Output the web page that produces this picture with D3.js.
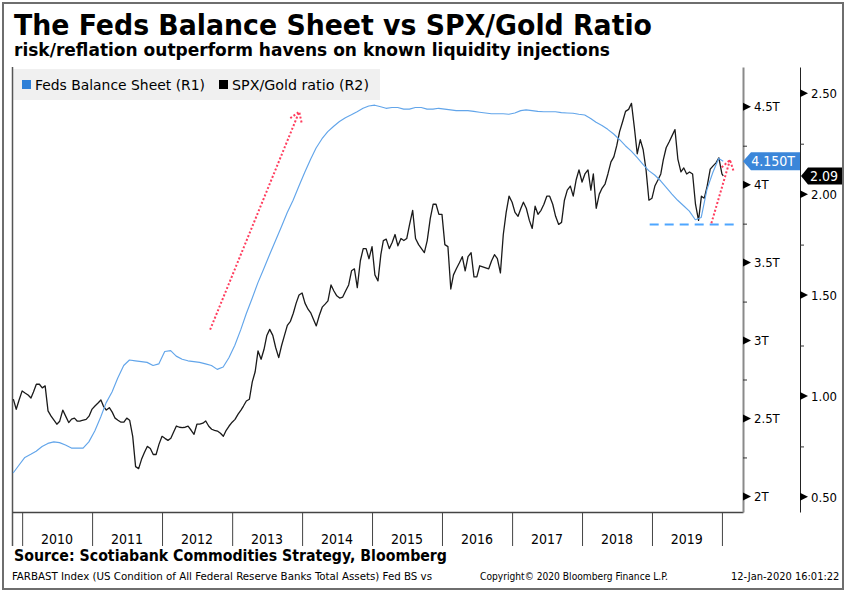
<!DOCTYPE html>
<html>
<head>
<meta charset="utf-8">
<script src="https://cdn.jsdelivr.net/npm/d3@7"></script>
<style>
  body { margin: 0; background: #fff; }
  text { font-family: "DejaVu Sans Condensed", "DejaVu Sans", sans-serif; fill: #000; }
</style>
</head>
<body>
<svg id="chart" width="847" height="592"></svg>
<script>
// ---- data ----
var years = [2010, 2011, 2012, 2013, 2014, 2015, 2016, 2017, 2018, 2019];

var r1Ticks = [2, 2.5, 3, 3.5, 4, 4.5];
var r1Labels = ["2T", "2.5T", "3T", "3.5T", "4T", "4.5T"];
var r1Minor = [2.25, 2.75, 3.25, 3.75, 4.25];

var r2Ticks = [0.5, 1, 1.5, 2, 2.5];
var r2Labels = ["0.50", "1.00", "1.50", "2.00", "2.50"];
var r2Minor = [0.75, 1.25, 1.75, 2.25];

// Feds balance sheet, trillions, mid-month Nov 2009 - Dec 2019, last point 8 Jan 2020
var fedValues = [
  2.15, 2.20,
  2.25, 2.27, 2.29, 2.32, 2.34, 2.35, 2.345, 2.33, 2.31, 2.31, 2.31, 2.35,
  2.42, 2.51, 2.60, 2.67, 2.76, 2.84, 2.875, 2.87, 2.865, 2.86, 2.84, 2.85,
  2.93, 2.935, 2.90, 2.88, 2.87, 2.865, 2.86, 2.85, 2.84, 2.815, 2.83, 2.89,
  2.97, 3.07, 3.17, 3.27, 3.37, 3.46, 3.55, 3.64, 3.73, 3.82, 3.90, 3.99,
  4.08, 4.165, 4.235, 4.295, 4.34, 4.375, 4.405, 4.43, 4.448, 4.468, 4.49, 4.505,
  4.51, 4.50, 4.49, 4.495, 4.495, 4.485, 4.485, 4.495, 4.495, 4.485, 4.485, 4.49,
  4.485, 4.48, 4.475, 4.475, 4.475, 4.47, 4.465, 4.46, 4.455, 4.455, 4.455, 4.452,
  4.46, 4.475, 4.48, 4.475, 4.47, 4.468, 4.468, 4.468, 4.462, 4.46, 4.458, 4.452,
  4.447, 4.425, 4.40, 4.38, 4.355, 4.325, 4.29, 4.25, 4.215, 4.175, 4.13, 4.09,
  4.062, 4.025, 3.985, 3.94, 3.90, 3.865, 3.83, 3.775, 3.79, 3.97, 4.08, 4.168,
  4.150
];

// SPX/Gold ratio, 1st and 16th of each month, 16 Nov 2009 - 1 Jan 2020, last point 8 Jan 2020
var ratioValues = [
  0.984, 0.934, 0.98,
  1.025, 1.015, 1.005, 0.99, 1.02, 1.058, 1.058, 1.04, 1.05, 0.926, 0.90, 0.88,
  0.86, 0.875, 0.93, 0.90, 0.868, 0.885, 0.89, 0.875, 0.876, 0.88, 0.884, 0.90,
  0.935, 0.95, 0.965, 0.98, 0.95, 0.93, 0.942, 0.92, 0.89, 0.88, 0.87, 0.87,
  0.89, 0.88, 0.80, 0.65, 0.64, 0.686, 0.72, 0.75, 0.74, 0.71, 0.71, 0.76,
  0.80, 0.79, 0.78, 0.79, 0.82, 0.851, 0.845, 0.843, 0.845, 0.85, 0.83, 0.81,
  0.86, 0.86, 0.865, 0.876, 0.85, 0.835, 0.83, 0.826, 0.815, 0.80, 0.83, 0.851,
  0.87, 0.884, 0.91, 0.93, 0.95, 0.975, 0.984, 1.07, 1.12, 1.223, 1.182, 1.23,
  1.30, 1.33, 1.30, 1.24, 1.19, 1.25, 1.30, 1.35, 1.37, 1.41, 1.46, 1.50,
  1.51, 1.46, 1.43, 1.41, 1.38, 1.347, 1.40, 1.44, 1.455, 1.471, 1.55, 1.52,
  1.496, 1.485, 1.49, 1.52, 1.55, 1.62, 1.63, 1.537, 1.67, 1.73, 1.73, 1.68,
  1.74, 1.60, 1.57, 1.70, 1.77, 1.777, 1.73, 1.76, 1.80, 1.744, 1.78, 1.77,
  1.78, 1.85, 1.92, 1.78, 1.75, 1.73, 1.71, 1.77, 1.88, 1.95, 1.95, 1.90,
  1.90, 1.75, 1.74, 1.53, 1.60, 1.63, 1.66, 1.69, 1.62, 1.69, 1.71, 1.59,
  1.59, 1.645, 1.64, 1.635, 1.63, 1.67, 1.70, 1.68, 1.61, 1.80, 1.91, 1.99,
  1.96, 1.91, 1.89, 1.93, 1.96, 1.93, 1.87, 1.83, 1.94, 1.90, 1.92, 1.95,
  1.99, 1.99, 1.95, 1.89, 1.85, 1.86, 1.97, 2.02, 2.04, 1.99, 2.07, 2.12,
  2.06, 2.10, 2.12, 2.02, 2.10, 1.93, 2.00, 2.03, 2.05, 2.10, 2.16, 2.185,
  2.24, 2.31, 2.36, 2.41, 2.42, 2.45, 2.33, 2.20, 2.27, 2.22, 2.12, 1.97,
  1.98, 2.04, 2.07, 2.10, 2.17, 2.23, 2.26, 2.29, 2.32, 2.174, 2.11, 2.13,
  2.10, 2.11, 2.10, 1.95, 1.87, 1.99, 1.98, 2.04, 2.124, 2.14, 2.155, 2.18,
  2.10, 2.09
];

// annotations (dates / R1 values)
var floorLevel = 3.745;
var floorFrom = new Date(2018, 11, 20), floorTo = new Date(2020, 2, 19);
var arrows = [
  { from: [new Date(2012, 8, 8), 3.07], to: [new Date(2013, 11, 17), 4.468] },
  { from: [new Date(2019, 10, 7), 3.753], to: [new Date(2020, 1, 12), 4.158] }
];

// ---- dates ----
var fedDates = d3.timeMonth.range(new Date(2009, 10, 1), new Date(2020, 0, 1)).map(function(d) {
  return new Date(d.getFullYear(), d.getMonth(), 15);
});
fedDates.push(new Date(2020, 0, 8));

var ratioDates = [];
d3.timeMonth.range(new Date(2009, 10, 1), new Date(2020, 0, 1)).forEach(function(d) {
  ratioDates.push(new Date(d.getFullYear(), d.getMonth(), 1));
  ratioDates.push(new Date(d.getFullYear(), d.getMonth(), 16));
});
ratioDates.shift();
ratioDates.push(new Date(2020, 0, 1), new Date(2020, 0, 8));

// ---- layout ----
var plotL = 12, plotR = 743, plotT = 67, plotB = 512, r2x = 800;

var svg = d3.select("#chart");
svg.append("rect").attr("width", 847).attr("height", 592).attr("fill", "#fff");
svg.append("rect").attr("x", 3).attr("y", 3).attr("width", 840).attr("height", 586)
  .attr("fill", "none").attr("stroke", "#6e6e6e").attr("stroke-width", 2);

var x = d3.scaleTime().domain([new Date(2009, 10, 9), new Date(2020, 3, 20)]).range([plotL, plotR]);
var y1 = d3.scaleLinear().domain([1.9, 4.755]).range([plotB, plotT]);
var y2 = d3.scaleLinear().domain([0.425, 2.63]).range([plotB, plotT]);

function fit(sel, w) {
  var n = sel.node().getComputedTextLength();
  if (Math.abs(n - w) / w > 0.02) sel.attr("textLength", w).attr("lengthAdjust", "spacingAndGlyphs");
  return sel;
}

// titles
fit(svg.append("text").attr("x", 14).attr("y", 35).style("font-size", "29px").style("font-weight", "bold")
  .text("The Feds Balance Sheet vs SPX/Gold Ratio"), 638);
fit(svg.append("text").attr("x", 14).attr("y", 56).style("font-size", "17px").style("font-weight", "bold")
  .text("risk/reflation outperform havens on known liquidity injections"), 596);

// legend
svg.append("rect").attr("x", 12).attr("y", 69).attr("width", 368).attr("height", 31).attr("fill", "#f0f0f0");
svg.append("rect").attr("x", 22).attr("y", 80).attr("width", 9).attr("height", 9).attr("fill", "#2f80d8");
fit(svg.append("text").attr("x", 35).attr("y", 90).style("font-size", "14px").text("Feds Balance Sheet (R1)"), 170);
svg.append("rect").attr("x", 219).attr("y", 80).attr("width", 9).attr("height", 9).attr("fill", "#000");
fit(svg.append("text").attr("x", 232).attr("y", 90).style("font-size", "14px").text("SPX/Gold ratio (R2)"), 137);

// frame line at the left
svg.append("line").attr("x1", plotL + 0.5).attr("x2", plotL + 0.5).attr("y1", plotT).attr("y2", 546)
  .attr("stroke", "#555").attr("stroke-width", 1.5);

// x axis: year separators and labels
var gx = svg.append("g").attr("transform", "translate(0," + plotB + ")")
  .call(d3.axisBottom(x).ticks(d3.timeYear.every(1)).tickSize(34).tickSizeOuter(0).tickFormat(""));
gx.select(".domain").attr("stroke", "#444").attr("stroke-width", 1.5);
gx.selectAll(".tick line").attr("stroke", "#444");

svg.selectAll("text.year").data(years).enter().append("text").attr("class", "year")
  .attr("x", function(d) { return x(new Date(d, 6, 2)); })
  .attr("y", 544).attr("text-anchor", "middle").style("font-size", "14px")
  .text(function(d) { return d; });

// series
var ratioLine = d3.line().x(function(d, i) { return x(ratioDates[i]); }).y(function(d) { return y2(d); });
var fedLine = d3.line().x(function(d, i) { return x(fedDates[i]); }).y(function(d) { return y1(d); });

svg.append("path").datum(ratioValues).attr("d", ratioLine)
  .attr("fill", "none").attr("stroke", "#1a1a1a").attr("stroke-width", 1.3).attr("stroke-linejoin", "round");
svg.append("path").datum(fedValues).attr("d", fedLine)
  .attr("fill", "none").attr("stroke", "#62a5ea").attr("stroke-width", 1.15).attr("stroke-linejoin", "round");

// floor line
svg.append("line").attr("x1", x(floorFrom)).attr("x2", x(floorTo))
  .attr("y1", y1(floorLevel)).attr("y2", y1(floorLevel))
  .attr("stroke", "#4ea6ff").attr("stroke-width", 2).attr("stroke-dasharray", "9,6");

// red dotted arrows
arrows.forEach(function(a) {
  var x0 = x(a.from[0]), yA = y1(a.from[1]), x1 = x(a.to[0]), yB = y1(a.to[1]);
  var ang = Math.atan2(yA - yB, x0 - x1);
  var head = [ang + 0.56, ang - 0.6].map(function(t) {
    return [x1 + 11 * Math.cos(t), yB + 11 * Math.sin(t)];
  });
  var d = "M" + x0 + "," + yA + "L" + x1 + "," + yB +
    "M" + head[0] + "L" + x1 + "," + yB + "L" + head[1];
  svg.append("path").attr("d", d).attr("fill", "none").attr("stroke", "#ff3d5e")
    .attr("stroke-width", 2).attr("stroke-dasharray", "2,2");
});

// right axes
function rightAxis(scale, xpos, ticks, labels, minor, lineColor, lineWidth) {
  var g = svg.append("g").attr("transform", "translate(" + xpos + ",0)");
  g.call(d3.axisRight(scale).tickValues(ticks).tickSize(0).tickSizeOuter(0).tickPadding(11)
    .tickFormat(function(d, i) { return labels[i]; }));
  g.select(".domain").attr("stroke", lineColor).attr("stroke-width", lineWidth);
  g.selectAll(".tick text").style("font-size", "13px").attr("fill", "#000")
    .style("font-family", "'DejaVu Sans Condensed','DejaVu Sans',sans-serif");
  g.selectAll("path.tri").data(ticks).enter().append("path").attr("class", "tri")
    .attr("d", function(d) { var y = scale(d); return "M0," + (y - 4) + "L8," + y + "L0," + (y + 4) + "Z"; })
    .attr("fill", "#000");
  var gm = svg.append("g").attr("transform", "translate(" + xpos + ",0)")
    .call(d3.axisRight(scale).tickValues(minor).tickSize(4).tickFormat(""));
  gm.select(".domain").remove();
  gm.selectAll(".tick line").attr("stroke", "#333");
}
rightAxis(y1, plotR, r1Ticks, r1Labels, r1Minor, "#8a8a8a", 2);
rightAxis(y2, r2x, r2Ticks, r2Labels, r2Minor, "#222", 1);

// last value tags
var fedLast = fedValues[fedValues.length - 1], ratioLast = ratioValues[ratioValues.length - 1];
var ty = y1(fedLast);
svg.append("path").attr("d", "M" + plotR + "," + ty + "L" + (plotR + 8) + "," + (ty - 9) + "L" + r2x + "," + (ty - 9) +
  "L" + r2x + "," + (ty + 9) + "L" + (plotR + 8) + "," + (ty + 9) + "Z").attr("fill", "#3b86d9");
svg.append("text").attr("x", 773).attr("y", ty + 5).attr("text-anchor", "middle").style("font-size", "14px")
  .style("fill", "#fff").text(d3.format(".3f")(fedLast) + "T");

var ry = y2(ratioLast);
svg.append("path").attr("d", "M" + (r2x + 1) + "," + ry + "L" + (r2x + 8) + "," + (ry - 8.5) + "L842," + (ry - 8.5) +
  "L842," + (ry + 8.5) + "L" + (r2x + 8) + "," + (ry + 8.5) + "Z").attr("fill", "#000");
svg.append("text").attr("x", 824).attr("y", ry + 5).attr("text-anchor", "middle").style("font-size", "14px")
  .style("fill", "#fff").text(d3.format(".2f")(ratioLast));

// footer
fit(svg.append("text").attr("x", 14).attr("y", 561).style("font-size", "15px").style("font-weight", "bold")
  .text("Source: Scotiabank Commodities Strategy, Bloomberg"), 433);
fit(svg.append("text").attr("x", 12).attr("y", 580).style("font-size", "11px")
  .text("FARBAST Index (US Condition of All Federal Reserve Banks Total Assets) Fed BS vs"), 420);
fit(svg.append("text").attr("x", 480).attr("y", 580).style("font-size", "11px")
  .text("Copyright\u00a9 2020 Bloomberg Finance L.P."), 188);
fit(svg.append("text").attr("x", 731).attr("y", 580).style("font-size", "11px")
  .text("12-Jan-2020 16:01:22"), 109);
</script>
</body>
</html>
